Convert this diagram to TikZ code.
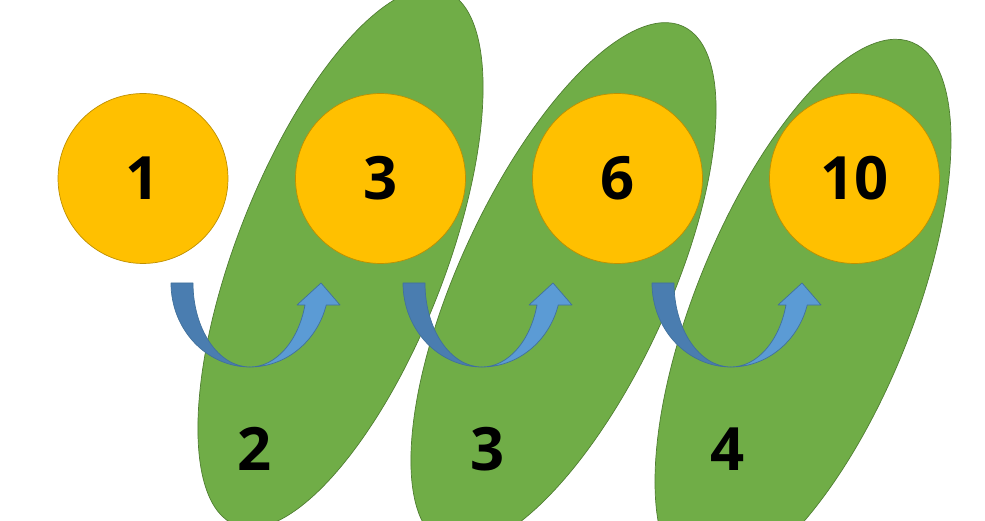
\documentclass[tikz,border=0pt]{standalone}
\usepackage{fontspec}
\setmainfont{Open Sans}
\usetikzlibrary{shapes.geometric}
\definecolor{sumfill}{HTML}{FFC000}
\definecolor{sumline}{HTML}{BF9000}
\definecolor{stepfill}{HTML}{70AD47}
\definecolor{stepline}{HTML}{507E32}
\definecolor{turnlight}{HTML}{5B9BD5}
\definecolor{turndark}{HTML}{4A7DB0}
\definecolor{turnline}{HTML}{41719C}

\begin{document}
\begin{tikzpicture}[
  x=0.02cm, y=0.02cm,
  sumnode/.style={circle, fill=sumfill, draw=sumline, thin, minimum size=3.4cm,
                  inner sep=0pt, font=\fontsize{34}{40}\selectfont\bfseries},
  blobnode/.style={ellipse, fill=stepfill, draw=stepline, thin, inner sep=0pt},
  addnode/.style={inner sep=0pt, font=\fontsize{34}{40}\selectfont\bfseries},
  turnbase/.style={draw=turnline, thin, line join=round}
]
\useasboundingbox (0,0) rectangle (985,521);
\clip (0,0) rectangle (985,521);

% Tilted groups behind the sums
\foreach \i/\x/\y/\w/\h/\a in {1/340.5/263/11.48/4.16/68.6,
                               2/563.5/236/11.40/4.18/65.2,
                               3/803/210/11.60/4.32/67.9}{
  \node[blobnode, minimum width=\w cm, minimum height=\h cm, rotate=\a] (E\i) at (\x, \y) {};
}

% Running sums
\foreach \i/\x/\t in {1/143/1, 2/380.5/3, 3/617.5/6, 4/854.5/10}{
  \node[sumnode] (S\i) at (\x, 342.5) {\t};
}

% Added values
\foreach \i/\x/\t in {1/255/2, 2/488/3, 3/728/4}{
  \node[addnode] (L\i) at (\x, 72) {\t};
}

% U-turn arrows (back side dark, front side light)
\foreach \i/\x in {1/250, 2/482, 3/731}{
  \coordinate (U\i) at (\x, 238);
  \begin{scope}[shift={(U\i)}]
    \filldraw[turnbase, fill=turndark]
      (-79,0) arc[start angle=180, end angle=270, x radius=79, y radius=84]
      arc[start angle=270, end angle=180, x radius=57, y radius=84] -- cycle;
    \filldraw[turnbase, fill=turnlight]
      (0,-84) arc[start angle=270, end angle=344.8, x radius=79, y radius=84]
      -- (90,-22) -- (71,0) -- (47,-22) -- (55,-22)
      arc[start angle=344.8, end angle=270, x radius=57, y radius=84] -- cycle;
  \end{scope}
}

\end{tikzpicture}
\end{document}
